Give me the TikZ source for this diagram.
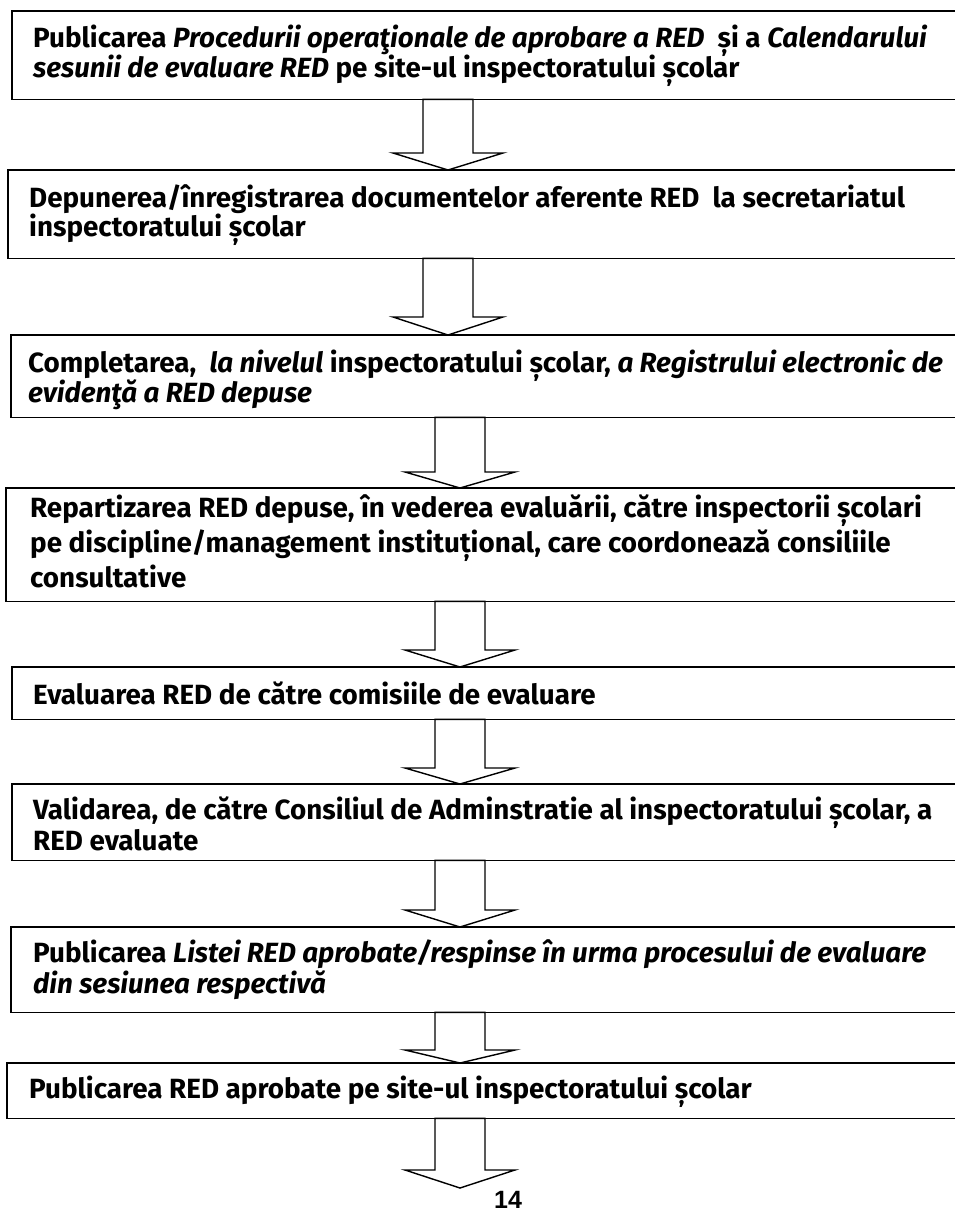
\documentclass[tikz,border=0pt]{standalone}
\usepackage{fontspec}
\setmainfont{Fira Sans}
\newfontfamily\numfont{Liberation Sans}
\usetikzlibrary{calc}
\tikzset{
  flowbox/.style={draw=none, anchor=north west, inner sep=0pt, minimum width=1150pt},
  boxline/.style={line width=1.5pt, line join=miter},
  flowtext/.style={anchor=base west, inner sep=0pt, font=\fontsize{27.8}{28}\selectfont\bfseries},
  flowarr/.style={draw, line width=1.4pt, fill=white, line join=miter},
}
\newcommand\myframe[1]{%
  \draw[boxline] (#1.north east) -- (#1.north west) -- (#1.south west) -- (#1.south east);
}
\newcommand\flowarrow[4]{%
  \path (#1.south -| #3) coordinate (atop) (#2 -| #3) coordinate (atip);
  \draw[flowarr] ($(atop)+(-25,0)$) -- ($(atip)+(-25,-#4)$) -- ($(atip)+(-55,-#4)$) -- (atip)
     -- ($(atip)+(55,-#4)$) -- ($(atip)+(25,-#4)$) -- ($(atop)+(25,0)$) -- cycle;
}
\begin{document}
\begin{tikzpicture}[x=1pt,y=-1pt]
\useasboundingbox (0,0) rectangle (954,1211);
\fill[white] (0,0) rectangle (954,1211);
% boxes
\node[flowbox, minimum height=88pt] (b1) at (12,11) {};
\node[flowbox, minimum height=88pt] (b2) at (8,170) {};
\node[flowbox, minimum height=82pt] (b3) at (11,335) {};
\node[flowbox, minimum height=113pt] (b4) at (6,488) {};
\node[flowbox, minimum height=52pt] (b5) at (12,667) {};
\node[flowbox, minimum height=76pt] (b6) at (12,784) {};
\node[flowbox, minimum height=85pt] (b7) at (11,927) {};
\node[flowbox, minimum height=55pt] (b8) at (7,1063) {};
\myframe{b1}\myframe{b2}\myframe{b3}\myframe{b4}
\myframe{b5}\myframe{b6}\myframe{b7}\myframe{b8}
% texts
\node[flowtext] (t1a) at (33,47) {Publicarea \textit{Procedurii operaţionale de aprobare a RED}\ \ și a \textit{Calendarului}};
\node[flowtext] (t1b) at (33,77) {\textit{sesunii de evaluare RED} pe site-ul inspectoratului școlar};
\node[flowtext] (t2a) at (29,207) {Depunerea/înregistrarea documentelor aferente RED\ \ la secretariatul};
\node[flowtext] (t2b) at (29,236) {inspectoratului școlar};
\node[flowtext] (t3a) at (28,372) {Completarea,\ \ \textit{la nivelul} inspectoratului școlar, \textit{a Registrului electronic de}};
\node[flowtext] (t3b) at (28,402) {\textit{evidenţă a RED depuse}};
\node[flowtext] (t4a) at (30,517) {Repartizarea RED depuse, în vederea evaluării, către inspectorii școlari};
\node[flowtext] (t4b) at (30,552) {pe discipline/management instituțional, care coordonează consiliile};
\node[flowtext] (t4c) at (30,587) {consultative};
\node[flowtext] (t5) at (33,704) {Evaluarea RED de către comisiile de evaluare};
\node[flowtext] (t6a) at (33,819) {Validarea, de către Consiliul de Adminstratie al inspectoratului școlar, a};
\node[flowtext] (t6b) at (33,850) {RED evaluate};
\node[flowtext] (t7a) at (33,962) {Publicarea \textit{Listei RED aprobate/respinse în urma procesului de evaluare}};
\node[flowtext] (t7b) at (33,993) {\textit{din sesiunea respectivă}};
\node[flowtext] (t8) at (29,1098) {Publicarea RED aprobate pe site-ul inspectoratului școlar};
% arrow axes
\coordinate (xa) at (448,0);
\coordinate (xb) at (460,0);
\coordinate (end) at (460,1188);
\flowarrow{b1}{b2.north}{xa}{17}
\flowarrow{b2}{b3.north}{xa}{18}
\flowarrow{b3}{b4.north}{xb}{16}
\flowarrow{b4}{b5.north}{xb}{17}
\flowarrow{b5}{b6.north}{xb}{16}
\flowarrow{b6}{b7.north}{xb}{17}
\flowarrow{b7}{b8.north}{xb}{13}
\flowarrow{b8}{end}{xb}{18}
\node[anchor=base, inner sep=0pt, font=\numfont\fontsize{25}{25}\selectfont\bfseries] (pg) at (508,1208) {14};
\end{tikzpicture}
\end{document}
